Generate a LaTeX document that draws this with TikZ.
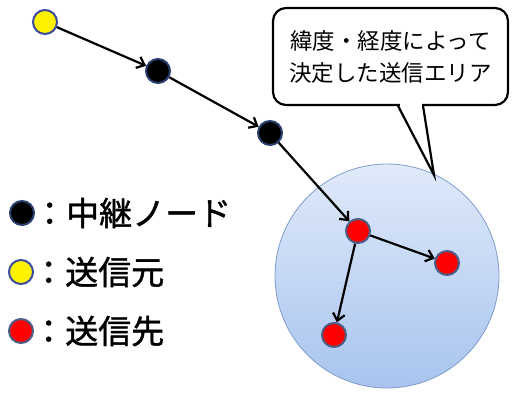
\documentclass[tikz,border=0pt]{standalone}
\usepackage{fontspec}
\newfontfamily\jp{Noto Sans CJK JP}
\newfontfamily\jpb{Noto Sans CJK JP}[FakeBold=1.2]
\usetikzlibrary{arrows.meta,shadings}
\definecolor{areatop}{HTML}{E0EAFA}
\definecolor{areabot}{HTML}{A8C4EE}
\definecolor{arealine}{HTML}{7F9CCB}
\definecolor{ringblue}{HTML}{2A3F6E}
\definecolor{ringgray}{HTML}{4A5E86}
\tikzset{
  nd/.style={circle, minimum size=24pt, inner sep=0pt, line width=2pt},
  relay/.style={nd, fill=black, draw=ringblue},
  src/.style={nd, fill=yellow, draw=ringgray!80!blue},
  dst/.style={nd, fill=red, draw=ringgray},
  arr/.style={line width=2.2pt, -{Straight Barb[length=7pt,width=12pt]}},
  legend/.style={anchor=west, font=\jpb\fontsize{33}{33}\selectfont, inner sep=0pt},
}
\begin{document}
\begin{tikzpicture}[x=1pt,y=-1pt]
\useasboundingbox (0,0) rectangle (513,392);
% area
\node[circle, minimum size=224pt, inner sep=0pt, top color=areatop, bottom color=areabot, draw=arealine, line width=0.8pt] (area) at (387,276) {};
% callout
\node[draw, line width=2.2pt, rounded corners=13pt, fill=white, minimum width=235pt, minimum height=97pt, align=center, font=\jp\fontsize{22.5}{32}\selectfont] (callout) at (390.5,56.5) {緯度・経度によって\\決定した送信エリア};
\coordinate (tip) at (434,175);
\fill[white] (399.5,102.5) rectangle (421.5,108);
\draw[line width=2.2pt, line join=miter] (423,105.8) -- (tip) -- (398,105.8);
% nodes
\node[src] (s) at (45,22) {};
\node[relay] (r1) at (158,71) {};
\node[relay] (r2) at (270,133) {};
\node[dst] (d1) at (358,231) {};
\node[dst] (d2) at (447,263) {};
\node[dst] (d3) at (334,335) {};
\draw[arr] (s) -- (r1);
\draw[arr] (r1) -- (r2);
\draw[arr] (r2) -- (d1);
\draw[arr] (d1) -- (d2);
\draw[arr] (d1) -- (d3);
% legend
\node[relay] (l1) at (22,213) {};
\node[src] (l2) at (21,272) {};
\node[dst] (l3) at (21,331) {};
\node[legend] (t1) at (33,213) {：中継ノード};
\node[legend] (t2) at (32,272) {：送信元};
\node[legend] (t3) at (32,331) {：送信先};
\end{tikzpicture}
\end{document}
